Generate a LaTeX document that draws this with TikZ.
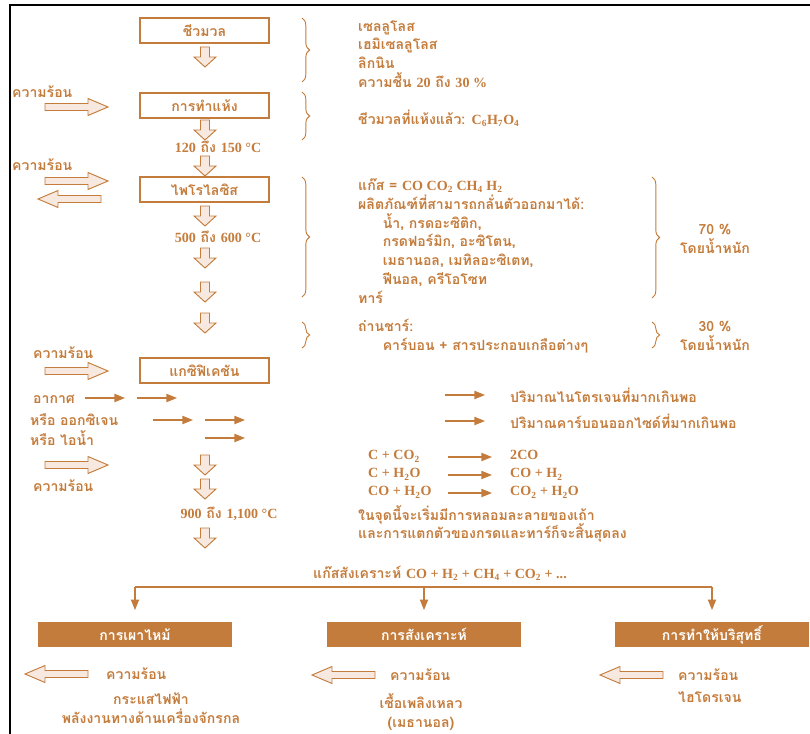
\documentclass[tikz,border=0pt]{standalone}
\usepackage{fontspec}
\setmainfont{Liberation Serif}
\newfontfamily\thaifont[Script=Thai]{Loma}
\usetikzlibrary{arrows.meta}
\usetikzlibrary{decorations.pathreplacing}

\definecolor{brn}{RGB}{196,124,60}
\definecolor{pale}{RGB}{247,233,224}
\newcommand{\nm}[1]{{\rmfamily #1}}
\newcommand{\subs}[1]{\textsubscript{#1}}

\tikzset{
    lbl/.style={text=brn, font=\thaifont\bfseries\fontsize{12}{16}\selectfont, inner sep=0pt},
    stagebox/.style={lbl, draw=brn, line width=1pt, minimum width=3.87cm, minimum height=0.75cm},
    usebox/.style={lbl, fill=brn, text=white, minimum width=5.82cm, minimum height=0.75cm},
    bracel/.style={draw=brn, line width=0.8pt, decorate, decoration={brace, amplitude=6.5pt}},
    feed/.style={draw=brn, line width=1pt, -{Triangle[length=9pt,width=7pt]}},
    downarr/.pic={\draw [brn, fill=pale, line width=0.8pt] (-4.5,-10) -- (4.5,-10) -- (4.5,0) -- (11,0) -- (0,10) -- (-11,0) -- (-4.5,0) -- cycle;},
    heatarr/.pic={\draw [brn, fill=pale, line width=0.8pt] (-31.5,-3.5) -- (11.5,-3.5) -- (11.5,-8.5) -- (31.5,0) -- (11.5,8.5) -- (11.5,3.5) -- (-31.5,3.5) -- cycle;}
}

\begin{document}
\begin{tikzpicture}[x=0.03cm, y=-0.03cm]
    \useasboundingbox (0,0) rectangle (810,734);
    \draw [black, line width=1.3pt] (10,734) -- (10,5) -- (810,5);

    % stages
    \node [stagebox] (biomass) at (204.5,30.5) {ชีวมวล};
    \node [stagebox] (drying) at (204.5,105.5) {การทำแห้ง};
    \node [stagebox] (pyro) at (204.5,189.5) {ไพโรไลซิส};
    \node [stagebox] (gasif) at (204.5,370.5) {แกซิฟิเคชัน};

    \foreach \y in {57,130,166,216,258,292,323,465,489,538}
        \pic at (205,\y) {downarr};

    \node [lbl] (t1) at (218,147) {\nm{120} ถึง \nm{150 °C}};
    \node [lbl] (t2) at (218,237) {\nm{500} ถึง \nm{600 °C}};
    \node [lbl] (t3) at (229,514) {\nm{900} ถึง \nm{1,100 °C}};

    % heat in and out
    \node [lbl, anchor=west] (h1) at (12,92) {ความร้อน};
    \pic at (76.5,107) {heatarr};
    \node [lbl, anchor=west] (h2) at (12,165) {ความร้อน};
    \pic at (76.5,181) {heatarr};
    \pic [rotate=180] at (69.5,199) {heatarr};
    \node [lbl, anchor=west] (h3) at (33,353) {ความร้อน};
    \pic at (76.5,371) {heatarr};
    \pic at (76.5,465) {heatarr};
    \node [lbl, anchor=west] (h4) at (33,486) {ความร้อน};

    \node [lbl, anchor=west] (air) at (33,399) {อากาศ};
    \node [lbl, anchor=west] (oxy) at (30,420) {หรือ ออกซิเจน};
    \node [lbl, anchor=west] (steam) at (30,438) {หรือ ไอน้ำ};
    \foreach \xa/\ya in {85/398, 137/398, 153/420, 205/420, 205/438, 445/395, 445/421}
        \draw [feed] (\xa,\ya) -- ++(40,0);

    % right hand notes
    \draw [bracel] (302,18) -- (302,82);
    \node [lbl, anchor=west, align=left] (comp) at (358,54) {เซลลูโลส\\เฮมิเซลลูโลส\\ลิกนิน\\ความชื้น \nm{20} ถึง \nm{30 \%}};
    \draw [bracel] (302,92) -- (302,140);
    \node [lbl, anchor=west] (dried) at (358,118) {ชีวมวลที่แห้งแล้ว: \nm{C\subs{6}H\subs{7}O\subs{4}}};
    \draw [bracel] (302,177) -- (302,297);
    \node [lbl, anchor=west, align=left] (prod) at (358,241) {แก๊ส = \nm{CO CO\subs{2} CH\subs{4} H\subs{2}}\\ผลิตภัณฑ์ที่สามารถกลั่นตัวออกมาได้:\\\hspace*{21pt}น้ำ, กรดอะซิติก,\\\hspace*{21pt}กรดฟอร์มิก, อะซิโตน,\\\hspace*{21pt}เมธานอล, เมทิลอะซิเตท,\\\hspace*{21pt}ฟีนอล, ครีโอโซท\\ทาร์};
    \draw [bracel] (652,177) -- (652,298);
    \node [lbl, align=center] (w70) at (715,239) {70 \%\\โดยน้ำหนัก};
    \draw [bracel] (302,322) -- (302,348);
    \node [lbl, anchor=west, align=left] (char) at (358,336) {ถ่านชาร์:\\\hspace*{21pt}คาร์บอน + สารประกอบเกลือต่างๆ};
    \draw [bracel] (652,322) -- (652,348);
    \node [lbl, align=center] (w30) at (715,336) {30 \%\\โดยน้ำหนัก};

    \node [lbl, anchor=west] (n2) at (510,395) {ปริมาณไนโตรเจนที่มากเกินพอ};
    \node [lbl, anchor=west] (co) at (510,421) {ปริมาณคาร์บอนออกไซด์ที่มากเกินพอ};

    % reactions
    \coordinate (ca) at (448,0);
    \coordinate (cb) at (492,0);
    \node [lbl, anchor=west, text height=8pt, text depth=3pt] (r1a) at (368,457) {\nm{C + CO\subs{2}}};
    \node [lbl, anchor=west, text height=8pt, text depth=3pt] (r1b) at (510,457) {\nm{2CO}};
    \node [lbl, anchor=west, text height=8pt, text depth=3pt] (r2a) at (368,475) {\nm{C + H\subs{2}O}};
    \node [lbl, anchor=west, text height=8pt, text depth=3pt] (r2b) at (510,475) {\nm{CO + H\subs{2}}};
    \node [lbl, anchor=west, text height=8pt, text depth=3pt] (r3a) at (368,493) {\nm{CO + H\subs{2}O}};
    \node [lbl, anchor=west, text height=8pt, text depth=3pt] (r3b) at (510,493) {\nm{CO\subs{2} + H\subs{2}O}};
    \foreach \r in {r1b,r2b,r3b}
        \draw [feed] (\r.west -| ca) -- (\r.west -| cb);
    \node [lbl, anchor=west, align=left] (ash) at (358,524) {ในจุดนี้จะเริ่มมีการหลอมละลายของเถ้า\\และการแตกตัวของกรดและทาร์ก็จะสิ้นสุดลง};

    % uses of the gas
    \node [lbl, anchor=west] (syngas) at (313,573) {แก๊สสังเคราะห์ \nm{CO + H\subs{2} + CH\subs{4} + CO\subs{2} + ...}};
    \node [usebox] (combust) at (135,634.5) {การเผาไหม้};
    \node [usebox] (synth) at (424,634.5) {การสังเคราะห์};
    \node [usebox] (purify) at (712,634.5) {การทำให้บริสุทธิ์};
    \coordinate (bus) at (424,587);
    \draw [brn, line width=1pt] (combust.north |- bus) -- (purify.north |- bus);
    \foreach \b in {combust,synth,purify}
        \draw [feed, shorten >=10pt] (\b.north |- bus) -- (\b.north);

    \pic [rotate=180] at (56.5,674) {heatarr};
    \node [lbl, anchor=west] (o1) at (106,674) {ความร้อน};
    \node [lbl, align=center] (o1b) at (151,708) {กระแสไฟฟ้า\\พลังงานทางด้านเครื่องจักรกล};
    \pic [rotate=180] at (343.5,675) {heatarr};
    \node [lbl, anchor=west] (o2) at (390,675) {ความร้อน};
    \node [lbl, align=center] (o2b) at (421,712) {เชื้อเพลิงเหลว\\(เมธานอล)};
    \pic [rotate=180] at (631.5,675) {heatarr};
    \node [lbl, anchor=west] (o3) at (678,675) {ความร้อน};
    \node [lbl, anchor=west] (o3b) at (678,697) {ไฮโดรเจน};
\end{tikzpicture}
\end{document}
